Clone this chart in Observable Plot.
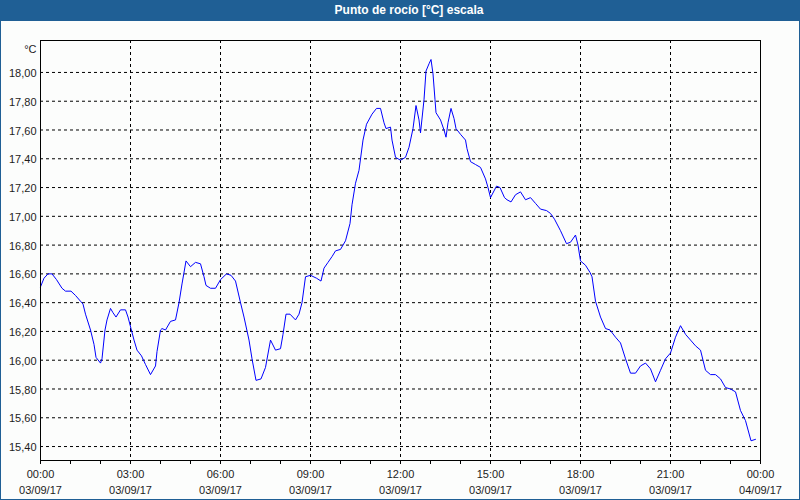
<!DOCTYPE html>
<html>
<head>
<meta charset="utf-8">
<script src="https://cdn.jsdelivr.net/npm/d3@7"></script>
<script src="https://cdn.jsdelivr.net/npm/@observablehq/plot@0.6"></script>
<style>
  html, body { margin: 0; padding: 0; background: #fcfdfc; }
  #wrap { position: relative; width: 800px; height: 500px; background: #fcfdfc; overflow: hidden; font-family: "Liberation Sans", Arial, sans-serif; }
  #title { position: absolute; left: 0; top: 0; width: 800px; height: 21px; background: #1f5f95; color: #fff; font-weight: bold; font-size: 12px; line-height: 21px; text-align: center; box-sizing: border-box; padding-left: 18px; }
  #chart { position: absolute; left: 0; top: 21px; }
  .bl { position: absolute; background: #1f5f95; }
</style>
</head>
<body>
<div id="wrap">
  <div id="title">Punto de rocío [°C] escala</div>
  <div id="chart"></div>
  <div class="bl" style="left:0;top:0;width:1px;height:500px"></div>
  <div class="bl" style="left:799px;top:0;width:1px;height:500px"></div>
  <div class="bl" style="left:0;top:499px;width:800px;height:1px"></div>
</div>
<script>
// minutes after 03/09/17 00:00
const minutes = [0,7,15,23,32,43,50,61,70,80,85,90,100,107,111,120,123,129,133,140,145,151,160,170,175,181,187,193,202,210,220,230,233,240,243,250,260,270,277,283,291,300,310,320,327,331,340,350,360,372,381,390,400,407,417,423,431,441,450,460,470,480,485,491,499,510,517,523,530,540,552,561,567,575,583,590,600,610,619,623,630,637,645,652,663,672,680,687,691,700,703,710,720,730,737,745,751,757,760,767,771,777,781,785,789,791,800,807,811,815,821,827,831,840,850,853,860,870,880,890,895,900,912,919,928,933,941,950,960,970,980,990,1000,1012,1020,1028,1040,1052,1060,1070,1075,1080,1090,1099,1103,1110,1120,1130,1139,1150,1160,1170,1180,1190,1200,1210,1220,1230,1240,1250,1260,1270,1280,1290,1300,1310,1320,1330,1340,1350,1360,1370,1380,1390,1400,1410,1421,1430];
const dewPoint = [16.51,16.57,16.60,16.60,16.56,16.50,16.48,16.48,16.45,16.41,16.39,16.32,16.21,16.11,16.02,15.98,16.01,16.21,16.28,16.36,16.33,16.30,16.35,16.35,16.30,16.22,16.14,16.07,16.03,15.97,15.90,15.96,16.06,16.21,16.22,16.21,16.27,16.28,16.40,16.53,16.69,16.65,16.68,16.67,16.58,16.52,16.50,16.50,16.56,16.60,16.59,16.55,16.40,16.30,16.14,16.01,15.86,15.87,15.95,16.14,16.07,16.08,16.18,16.32,16.32,16.28,16.32,16.40,16.58,16.59,16.57,16.55,16.64,16.68,16.72,16.76,16.77,16.83,16.95,17.08,17.23,17.32,17.53,17.64,17.71,17.75,17.75,17.65,17.61,17.62,17.53,17.41,17.39,17.41,17.48,17.61,17.77,17.67,17.58,17.81,18.01,18.06,18.09,17.99,17.81,17.72,17.67,17.60,17.55,17.65,17.75,17.68,17.61,17.57,17.53,17.47,17.38,17.36,17.34,17.26,17.20,17.13,17.21,17.20,17.13,17.115,17.10,17.15,17.17,17.115,17.13,17.09,17.05,17.04,17.02,16.98,16.90,16.81,16.82,16.87,16.80,16.69,16.66,16.61,16.58,16.41,16.30,16.22,16.21,16.16,16.12,16.01,15.91,15.91,15.96,15.98,15.94,15.85,15.93,16.01,16.05,16.16,16.24,16.18,16.14,16.10,16.07,15.93,15.90,15.90,15.87,15.81,15.80,15.78,15.65,15.58,15.44,15.45];

const xTicks = [0,180,360,540,720,900,1080,1260,1440];
const timeLabels = ["00:00","03:00","06:00","09:00","12:00","15:00","18:00","21:00","00:00"];
const dateLabels = ["03/09/17","03/09/17","03/09/17","03/09/17","03/09/17","03/09/17","03/09/17","03/09/17","04/09/17"];
const hourTicks = [0,60,120,180,240,300,360,420,480,540,600,660,720,780,840,900,960,1020,1080,1140,1200,1260,1320,1380,1440];
const yTicks = [15.4,15.6,15.8,16.0,16.2,16.4,16.6,16.8,17.0,17.2,17.4,17.6,17.8,18.0];
const yTickLabels = ["15,40","15,60","15,80","16,00","16,20","16,40","16,60","16,80","17,00","17,20","17,40","17,60","17,80","18,00"];
const unitLabel = "°C";

const data = minutes.map((m, i) => ({m, v: dewPoint[i]}));
const gridStyle = {stroke: "#000", strokeOpacity: 1, strokeWidth: 1, strokeDasharray: "3,3"};

const chart = Plot.plot({
  width: 800,
  height: 479,
  marginTop: 19,
  marginBottom: 40,
  marginLeft: 40,
  marginRight: 40,
  style: {background: "transparent", fontFamily: "'Liberation Sans', Arial, sans-serif", fontSize: "11px", color: "#1c1c1c", overflow: "visible"},
  x: {domain: [0, 1440]},
  y: {domain: [15.303, 18.222]},
  marks: [
    Plot.gridY(yTicks, gridStyle),
    Plot.gridX(xTicks.slice(1, -1), gridStyle),
    Plot.line(data, {x: "m", y: "v", stroke: "#0000ff", strokeWidth: 1}),
    Plot.frame({stroke: "#000", strokeWidth: 1}),
    Plot.axisY(yTicks, {tickSize: 0, tickPadding: 4, dy: 1, label: null, tickFormat: d => yTickLabels[yTicks.indexOf(d)]}),
    Plot.axisX(hourTicks, {tickSize: 4, stroke: "#000", label: null, tickFormat: () => ""}),
    Plot.axisX(xTicks, {tickSize: 0, tickPadding: 10, label: null, tickFormat: d => timeLabels[xTicks.indexOf(d)]}),
    Plot.axisX(xTicks, {tickSize: 0, tickPadding: 26, label: null, tickFormat: d => dateLabels[xTicks.indexOf(d)]}),
    Plot.text([unitLabel], {frameAnchor: "top-left", text: d => d, dx: -4, dy: 5, textAnchor: "end", fill: "#1c1c1c"})
  ]
});
document.getElementById("chart").appendChild(chart);
</script>
</body>
</html>
